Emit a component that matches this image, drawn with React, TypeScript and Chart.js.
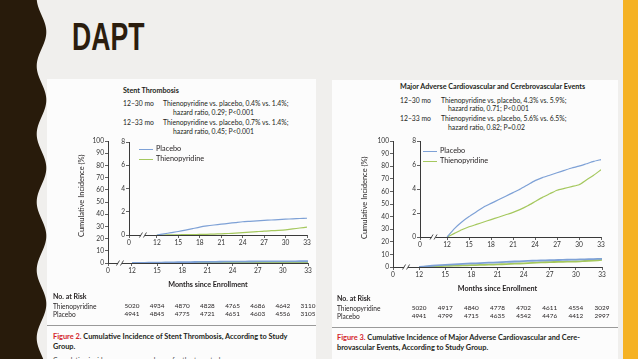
import React, { useEffect, useRef } from "react";
import { Chart, registerables } from "chart.js";

Chart.register(...registerables);

// ---------- data ----------
const MONTHS = [12, 13, 14, 15, 16, 17, 18, 19, 20, 21, 22, 23, 24, 25, 26, 27, 28, 29, 30, 31, 32, 33];
const ST_PLACEBO = [0, 0.1, 0.2, 0.3, 0.42, 0.55, 0.68, 0.78, 0.86, 0.93, 1.0, 1.07, 1.14, 1.18, 1.22, 1.26, 1.29, 1.32, 1.36, 1.39, 1.42, 1.44];
const ST_THIENO = [0, 0, 0.01, 0.02, 0.03, 0.04, 0.05, 0.06, 0.08, 0.1, 0.13, 0.16, 0.2, 0.24, 0.29, 0.34, 0.37, 0.4, 0.44, 0.52, 0.6, 0.68];
const MACCE_PLACEBO = [0, 0.7, 1.25, 1.7, 2.1, 2.5, 2.8, 3.1, 3.4, 3.7, 4.0, 4.35, 4.7, 4.95, 5.15, 5.35, 5.55, 5.75, 5.9, 6.1, 6.3, 6.45];
const MACCE_THIENO = [0, 0.3, 0.6, 0.85, 1.05, 1.25, 1.45, 1.65, 1.85, 2.05, 2.3, 2.6, 2.95, 3.3, 3.6, 3.9, 4.05, 4.2, 4.35, 4.75, 5.15, 5.6];

const X_TICKS = [0, 12, 15, 18, 21, 24, 27, 30, 33];
const RISK_MONTHS = [12, 15, 18, 21, 24, 27, 30, 33];
const ST_RISK_THIENO = [5020, 4934, 4870, 4828, 4765, 4686, 4642, 3110];
const ST_RISK_PLACEBO = [4941, 4845, 4775, 4721, 4651, 4603, 4556, 3105];
const MACCE_RISK_THIENO = [5020, 4917, 4840, 4778, 4702, 4611, 4554, 3029];
const MACCE_RISK_PLACEBO = [4941, 4799, 4715, 4635, 4542, 4476, 4412, 2997];

const SERIES_LABELS = ["Placebo", "Thienopyridine"];

// ---------- style ----------
const BLUE = "#7ea1d6";
const GREEN = "#a5c85e";
const AXIS = "#3a3a3a";
const FONT = "Lato, 'Open Sans', sans-serif";
const AX_W = 40;
const AX_H = 16;
const PAD_T = 10;
const PAD_R = 12;

type Area = { l: number; r: number; t: number; b: number };

const breakPlugin = {
  id: "axisBreak",
  afterDraw(chart: any) {
    const xs = chart.scales.x;
    const ctx = chart.ctx;
    const px = xs.getPixelForValue((xs.min + 12) / 2);
    const py = chart.chartArea.bottom;
    ctx.save();
    ctx.fillStyle = "#fcfcfc";
    ctx.fillRect(px - 2, py - 1.5, 4, 3);
    ctx.strokeStyle = AXIS;
    ctx.lineWidth = 0.9;
    ctx.beginPath();
    ctx.moveTo(px - 3.5, py + 2.5);
    ctx.lineTo(px - 0.5, py - 2.5);
    ctx.moveTo(px + 0.5, py + 2.5);
    ctx.lineTo(px + 3.5, py - 2.5);
    ctx.stroke();
    ctx.restore();
  },
};

function makeChart(canvas: HTMLCanvasElement, xmin: number, ymax: number, ystep: number, placebo: number[], thieno: number[], lw: number) {
  const tickFont = { family: FONT, size: 6.6 };
  return new Chart(canvas, {
    type: "line",
    data: {
      datasets: [
        {
          label: SERIES_LABELS[0],
          data: MONTHS.map((m, i) => ({ x: m, y: placebo[i] })),
          borderColor: BLUE,
          borderWidth: lw,
          pointRadius: 0,
          tension: 0.2,
        },
        {
          label: SERIES_LABELS[1],
          data: MONTHS.map((m, i) => ({ x: m, y: thieno[i] })),
          borderColor: GREEN,
          borderWidth: lw,
          pointRadius: 0,
          tension: 0.2,
        },
      ],
    },
    options: {
      animation: false,
      responsive: false,
      maintainAspectRatio: false,
      layout: { padding: { top: PAD_T, right: PAD_R, left: 0, bottom: 0 } },
      plugins: { legend: { display: false }, tooltip: { enabled: false } },
      scales: {
        x: {
          type: "linear",
          min: xmin,
          max: 33,
          afterFit: (s: any) => {
            s.height = AX_H;
          },
          afterBuildTicks: (s: any) => {
            s.ticks = X_TICKS.map((v) => ({ value: v === 0 ? xmin : v }));
          },
          ticks: {
            callback: (v: any) => (Number(v) < 12 ? "0" : String(v)),
            font: tickFont,
            color: "#333",
            padding: 1,
            maxRotation: 0,
            autoSkip: false,
          },
          grid: { drawOnChartArea: false, drawTicks: true, tickLength: 3, color: AXIS, lineWidth: 0.8 },
          border: { color: AXIS, width: 1 },
        },
        y: {
          min: 0,
          max: ymax,
          afterFit: (s: any) => {
            s.width = AX_W;
          },
          ticks: { stepSize: ystep, font: tickFont, color: "#333", padding: 1 },
          grid: { drawOnChartArea: false, drawTicks: true, tickLength: 3, color: AXIS, lineWidth: 0.8 },
          border: { color: AXIS, width: 1 },
        },
      },
    } as any,
    plugins: [breakPlugin],
  });
}

function ChartBox(props: { area: Area; xmin: number; ymax: number; ystep: number; placebo: number[]; thieno: number[]; lw: number }) {
  const ref = useRef<HTMLCanvasElement>(null);
  const { area, xmin, ymax, ystep, placebo, thieno, lw } = props;
  const w = area.r - area.l + AX_W + PAD_R;
  const h = area.b - area.t + PAD_T + AX_H;
  useEffect(() => {
    const c = makeChart(ref.current!, xmin, ymax, ystep, placebo, thieno, lw);
    return () => c.destroy();
  }, []);
  return (
    <canvas
      ref={ref}
      width={w}
      height={h}
      style={{ position: "absolute", left: area.l - AX_W, top: area.t - PAD_T, width: w, height: h }}
    />
  );
}

function T(props: { x: number; y: number; size: number; bold?: boolean; color?: string; center?: boolean; children: any; style?: any }) {
  const { x, y, size, bold, color, center, children, style } = props;
  return (
    <div
      style={{
        position: "absolute",
        left: x,
        top: y - size / 2,
        fontSize: size,
        lineHeight: 1,
        fontFamily: FONT,
        fontWeight: bold ? 700 : 400,
        color: color || "#231f20",
        whiteSpace: "nowrap",
        transform: center ? "translateX(-50%)" : undefined,
        ...style,
      }}
    >
      {children}
    </div>
  );
}

function LegendItems(props: { x: number; y: number }) {
  const { x, y } = props;
  return (
    <>
      <div style={{ position: "absolute", left: x, top: y - 0.5, width: 14, height: 1.2, background: BLUE }} />
      <T x={x + 17} y={y} size={7.3}>{SERIES_LABELS[0]}</T>
      <div style={{ position: "absolute", left: x, top: y + 9.5, width: 14, height: 1.2, background: GREEN }} />
      <T x={x + 17} y={y + 10} size={7.3}>{SERIES_LABELS[1]}</T>
    </>
  );
}

function riskX(area: Area, xmin: number, m: number) {
  return area.l + ((m - xmin) / (33 - xmin)) * (area.r - area.l);
}

function Panel(props: {
  outer: Area; oxmin: number; inner: Area; ixmin: number;
  placebo: number[]; thieno: number[]; riskT: number[]; riskP: number[];
  ytitleX: number; ytitleY: number; monthsY: number; riskY: number; noRiskX: number; legend: { x: number; y: number };
}) {
  const p = props;
  return (
    <>
      <ChartBox area={p.outer} xmin={p.oxmin} ymax={100} ystep={10} placebo={p.placebo} thieno={p.thieno} lw={1.8} />
      <ChartBox area={p.inner} xmin={p.ixmin} ymax={8} ystep={2} placebo={p.placebo} thieno={p.thieno} lw={1.2} />
      <LegendItems x={p.legend.x} y={p.legend.y} />
      <T x={p.ytitleX} y={p.ytitleY} size={7.5} center style={{ transform: "translate(-50%, 0) rotate(-90deg)" }}>
        Cumulative Incidence (%)
      </T>
      <T x={(p.outer.l + p.outer.r) / 2} y={p.monthsY} size={7.2} bold center>
        Months since Enrollment
      </T>
      <T x={p.noRiskX} y={p.riskY - 10} size={7} bold>No. at Risk</T>
      <T x={p.noRiskX} y={p.riskY} size={6.6}>{SERIES_LABELS[1]}</T>
      <T x={p.noRiskX} y={p.riskY + 8.5} size={6.6}>{SERIES_LABELS[0]}</T>
      {RISK_MONTHS.map((m, i) => (
        <T key={"t" + m} x={riskX(p.outer, p.oxmin, m)} y={p.riskY} size={6.4} center>{p.riskT[i]}</T>
      ))}
      {RISK_MONTHS.map((m, i) => (
        <T key={"p" + m} x={riskX(p.outer, p.oxmin, m)} y={p.riskY + 8.5} size={6.4} center>{p.riskP[i]}</T>
      ))}
    </>
  );
}

function wavePath() {
  let d = "M0 0";
  for (let y = 0; y <= 360; y += 2) {
    const x = 41.5 + 4.8 * Math.cos((2 * Math.PI * (y - 32)) / 68);
    d += ` L${x.toFixed(2)} ${y}`;
  }
  return d + " L0 360 Z";
}

export default function App() {
  useEffect(() => {
    document.body.style.margin = "0";
  }, []);
  const RED = "#d3232a";
  return (
    <div style={{ position: "absolute", left: 0, top: 0, width: 638, height: 359, overflow: "hidden", background: "#f0efed" }}>
      <svg width={60} height={359} style={{ position: "absolute", left: 0, top: 0 }}>
        <path d={wavePath()} fill="#281b0b" />
      </svg>
      <div style={{ position: "absolute", left: 623, top: 0, width: 15, height: 359, background: "#f5b224" }} />
      <div
        style={{
          position: "absolute", left: 72, top: 18, fontFamily: "'Liberation Sans', Arial, sans-serif", fontWeight: 700,
          fontSize: 38, lineHeight: 1, color: "#2b1d0e", transform: "scaleX(0.7)", transformOrigin: "0 0", whiteSpace: "nowrap",
        }}
      >
        DAPT
      </div>

      {/* left panel */}
      <div style={{ position: "absolute", left: 47, top: 79, width: 269, height: 290, background: "#fcfcfc", overflow: "hidden" }} />
      {/* right panel */}
      <div style={{ position: "absolute", left: 332, top: 80, width: 286, height: 290, background: "#fcfcfc" }} />

      {/* left header */}
      <T x={123} y={91} size={7.2} bold>Stent Thrombosis</T>
      <T x={123} y={103} size={6.8}>12–30 mo</T>
      <T x={163} y={103} size={6.8}>Thienopyridine vs. placebo, 0.4% vs. 1.4%;</T>
      <T x={173} y={112} size={6.8}>hazard ratio, 0.29; P&lt;0.001</T>
      <T x={123} y={122} size={6.8}>12–33 mo</T>
      <T x={163} y={122} size={6.8}>Thienopyridine vs. placebo, 0.7% vs. 1.4%;</T>
      <T x={173} y={131} size={6.8}>hazard ratio, 0.45; P&lt;0.001</T>

      {/* right header */}
      <T x={400} y={87} size={7.2} bold>Major Adverse Cardiovascular and Cerebrovascular Events</T>
      <T x={400} y={100} size={6.8}>12–30 mo</T>
      <T x={441} y={100} size={6.8}>Thienopyridine vs. placebo, 4.3% vs. 5.9%;</T>
      <T x={448} y={108.5} size={6.8}>hazard ratio, 0.71; P&lt;0.001</T>
      <T x={400} y={118} size={6.8}>12–33 mo</T>
      <T x={441} y={118} size={6.8}>Thienopyridine vs. placebo, 5.6% vs. 6.5%;</T>
      <T x={448} y={127} size={6.8}>hazard ratio, 0.82; P=0.02</T>

      <Panel
        outer={{ l: 108, r: 308, t: 141, b: 263 }} oxmin={9.14}
        inner={{ l: 129, r: 307, t: 142, b: 235 }} ixmin={8.1}
        placebo={ST_PLACEBO} thieno={ST_THIENO} riskT={ST_RISK_THIENO} riskP={ST_RISK_PLACEBO}
        ytitleX={82} ytitleY={196} monthsY={285} riskY={306} noRiskX={53} legend={{ x: 139, y: 149 }}
      />
      <Panel
        outer={{ l: 393, r: 602, t: 141, b: 267 }} oxmin={9.0}
        inner={{ l: 420, r: 601, t: 141, b: 237 }} ixmin={8.3}
        placebo={MACCE_PLACEBO} thieno={MACCE_THIENO} riskT={MACCE_RISK_THIENO} riskP={MACCE_RISK_PLACEBO}
        ytitleX={365} ytitleY={198} monthsY={289} riskY={308} noRiskX={337} legend={{ x: 423, y: 151 }}
      />

      {/* dividers */}
      <div style={{ position: "absolute", left: 47, top: 325, width: 269, height: 1, background: "#9a9a9a" }} />
      <div style={{ position: "absolute", left: 332, top: 327, width: 286, height: 1, background: "#9a9a9a" }} />

      {/* captions */}
      <T x={53} y={337} size={7.4} bold>
        <span style={{ color: RED }}>Figure 2.</span> Cumulative Incidence of Stent Thrombosis, According to Study
      </T>
      <T x={53} y={347} size={7.4} bold>Group.</T>
      <T x={53} y={360} size={6.8} color="#444">Cumulative incidence curves are shown for the two study groups.</T>
      <T x={337} y={338} size={7.4} bold>
        <span style={{ color: RED }}>Figure 3.</span> Cumulative Incidence of Major Adverse Cardiovascular and Cere-
      </T>
      <T x={337} y={348} size={7.4} bold>brovascular Events, According to Study Group.</T>
    </div>
  );
}
